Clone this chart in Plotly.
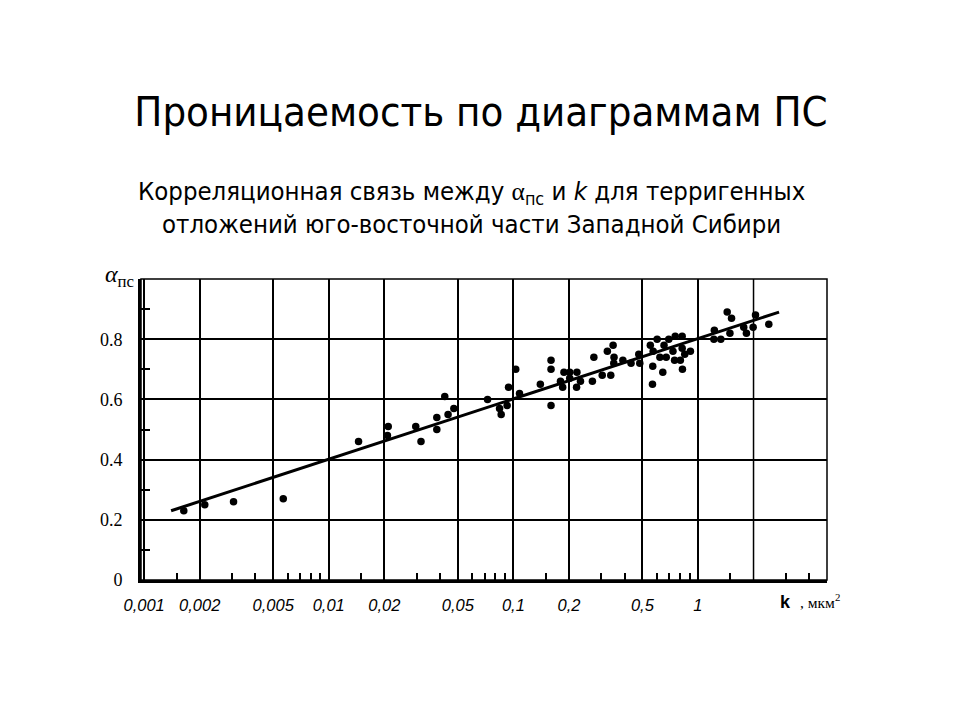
import plotly.graph_objects as go

# ---- data ----
k_points = [0.00164, 0.00213, 0.00305, 0.00567,
            0.0145, 0.0210, 0.0208, 0.0296, 0.0316, 0.0385, 0.0385, 0.0425, 0.0443, 0.0476,
            0.0725, 0.0842, 0.0859, 0.0925, 0.0942, 0.103, 0.108,
            0.140, 0.160, 0.160, 0.160, 0.180, 0.185, 0.188,
            0.202, 0.202, 0.221, 0.220, 0.231, 0.268, 0.273,
            0.303, 0.323, 0.347, 0.337, 0.351, 0.350, 0.392, 0.434, 0.478, 0.484,
            0.552, 0.572, 0.601, 0.569, 0.567, 0.645, 0.622, 0.655, 0.673, 0.695,
            0.732, 0.753, 0.747, 0.803, 0.821, 0.821, 0.824, 0.848, 0.910,
            1.227, 1.22, 1.33, 1.44, 1.52, 1.49, 1.77, 1.83, 1.99, 2.05, 2.42]
alpha_points = [0.23, 0.25, 0.26, 0.27,
                0.46, 0.51, 0.48, 0.51, 0.46, 0.54, 0.50, 0.61, 0.55, 0.57,
                0.60, 0.57, 0.55, 0.58, 0.64, 0.70, 0.62,
                0.65, 0.73, 0.70, 0.58, 0.66, 0.64, 0.69,
                0.69, 0.67, 0.69, 0.64, 0.66, 0.66, 0.74,
                0.68, 0.76, 0.78, 0.68, 0.74, 0.72, 0.73, 0.72, 0.75, 0.72,
                0.78, 0.76, 0.80, 0.71, 0.65, 0.69, 0.74, 0.78, 0.74, 0.80,
                0.76, 0.81, 0.73, 0.73, 0.81, 0.77, 0.70, 0.75, 0.76,
                0.83, 0.80, 0.80, 0.89, 0.87, 0.82, 0.84, 0.82, 0.84, 0.88, 0.85]

# regression line endpoints
line_k = [0.0014, 2.75]
line_alpha = [0.23, 0.89]

x_tick_vals = [0.001, 0.002, 0.005, 0.01, 0.02, 0.05, 0.1, 0.2, 0.5, 1]
x_tick_text = ["0,001", "0,002", "0,005", "0,01", "0,02", "0,05", "0,1", "0,2", "0,5", "1"]
x_extra_grid = [2]
x_minor_vals = [m * d for d in (0.001, 0.01, 0.1, 1) for m in (1.5, 3, 4, 6, 7, 8, 9) if m * d < 5]

y_tick_vals = [0, 0.2, 0.4, 0.6, 0.8]
y_tick_text = ["0", "0.2", "0.4", "0.6", "0.8"]
y_minor_vals = [0.1, 0.3, 0.5, 0.7, 0.9]

assert len(k_points) == len(alpha_points)

# page body has an 8px margin: figure occupies 8..960 x 8..720
W, H = 952, 712

fig = go.Figure()
fig.add_trace(go.Scatter(x=line_k, y=line_alpha, mode="lines",
                         line=dict(color="black", width=3), hoverinfo="skip"))
fig.add_trace(go.Scatter(x=k_points, y=alpha_points, mode="markers",
                         marker=dict(size=7.5, color="black")))

fig.update_layout(
    width=W, height=H,
    margin=dict(l=133, r=133, t=271, b=140),
    plot_bgcolor="white", paper_bgcolor="white",
    showlegend=False,
    title=dict(text="Проницаемость по диаграммам ПС",
               font=dict(family="DejaVu Sans Condensed, DejaVu Sans", size=41.5, color="black"),
               x=(481 - 8) / W, xref="container", xanchor="center",
               y=1 - (111 - 8) / H, yref="container", yanchor="middle"),
)

fig.update_xaxes(
    type="log", range=[-3.017, 0.699],
    tickmode="array", tickvals=x_tick_vals, ticktext=x_tick_text,
    showgrid=True, gridcolor="black", gridwidth=1.5,
    showline=True, linecolor="black", linewidth=3,
    ticks="", zeroline=False,
    tickfont=dict(family="Liberation Sans", size=16.5, color="black", style="italic"),
    ticklabelstandoff=8,
    minor=dict(tickmode="array", tickvals=x_minor_vals, ticks="inside",
               ticklen=7, tickwidth=1.5, tickcolor="black", showgrid=False),
)
fig.update_yaxes(
    range=[0, 1.0],
    tickmode="array", tickvals=y_tick_vals, ticktext=y_tick_text,
    showgrid=True, gridcolor="black", gridwidth=1.5,
    showline=True, linecolor="black", linewidth=3,
    ticks="", zeroline=False,
    tickfont=dict(family="Liberation Serif", size=18, color="black"),
    ticklabelstandoff=12,
    minor=dict(tickmode="array", tickvals=y_minor_vals, ticks="inside",
               ticklen=9, tickwidth=1.5, tickcolor="black", showgrid=False),
)

# frame (top / right border)
fig.add_shape(type="rect", xref="paper", yref="paper", x0=0, x1=1, y0=0, y1=1,
              line=dict(color="black", width=1.5), layer="below")
# unlabelled grid line(s)
for gx in x_extra_grid:
    fig.add_shape(type="line", xref="x", yref="paper", x0=gx, x1=gx, y0=0, y1=1,
                  line=dict(color="black", width=1.5), layer="below")

# subtitle
fig.add_annotation(
    text="Корреляционная связь между <span style='font-family:Liberation Serif'>α</span><sub>пс</sub> и <i>k</i> для терригенных<br>отложений юго-восточной части Западной Сибири",
    xref="paper", yref="paper", x=(471 - 141) / 686, y=(580 - 207) / 301,
    xanchor="center", yanchor="middle", showarrow=False, align="center",
    font=dict(family="DejaVu Sans Condensed, DejaVu Sans", size=25.5, color="black"),
)

# y-axis title
fig.add_annotation(
    text="<i>α</i><sub>пс</sub>",
    xref="paper", yref="paper", x=0, y=1, xanchor="right", yanchor="middle",
    xshift=-5, yshift=3, showarrow=False,
    font=dict(family="Liberation Serif", size=24, color="black"),
)

# x-axis title
fig.add_annotation(
    text="<b>k</b>  <span style='font-family:Liberation Serif;font-size:15.5px'>, мкм<sup>2</sup></span>",
    xref="paper", yref="paper", x=(778 - 141) / 686, y=0, xanchor="left", yanchor="top",
    yshift=-9, showarrow=False,
    font=dict(family="Liberation Sans", size=18, color="black"),
)

fig.write_html("out.html")
